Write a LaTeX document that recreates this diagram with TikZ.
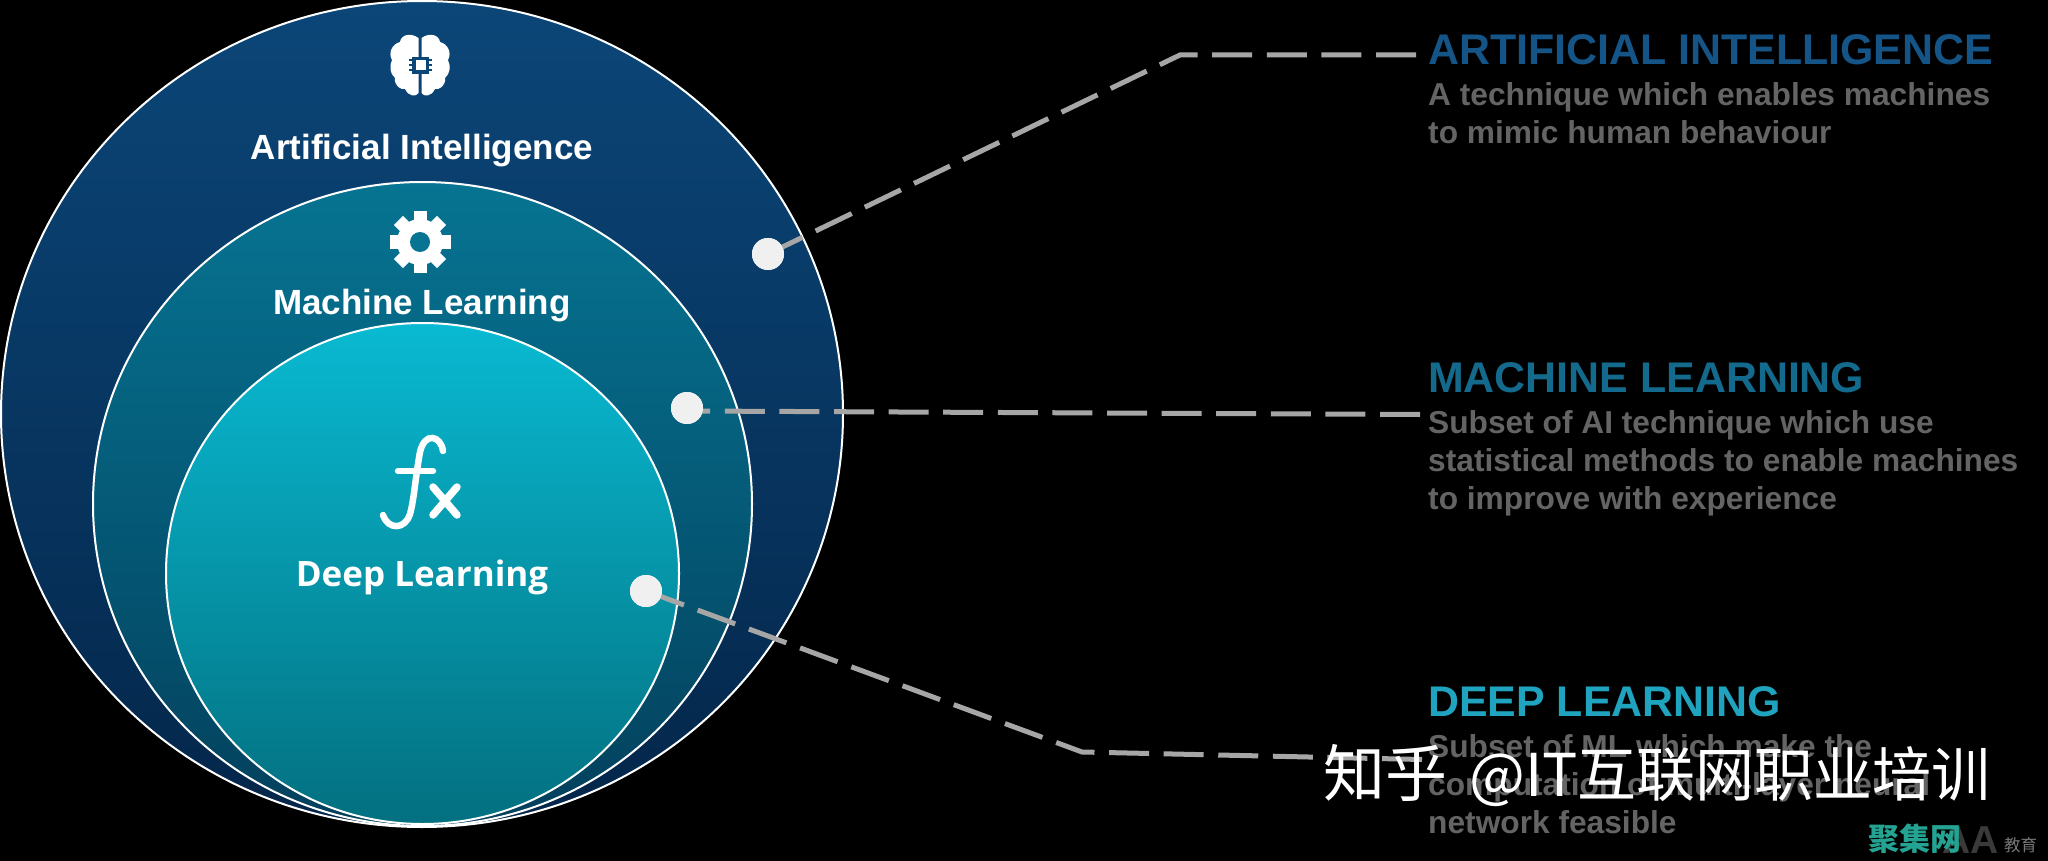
\documentclass[tikz,border=0pt]{standalone}
\usepackage{fontspec}
\setmainfont{Liberation Sans}
\newfontfamily\opsans{Open Sans}
\newfontfamily\cjkfont{Noto Sans CJK SC}
\usetikzlibrary{calc,shapes.geometric}
\definecolor{aihead}{HTML}{145487}
\definecolor{mlhead}{HTML}{136A8C}
\definecolor{dlhead}{HTML}{1FA3BE}
\definecolor{bodygray}{HTML}{646464}
\definecolor{linkgray}{HTML}{A6A6A6}
\definecolor{dotfill}{HTML}{F0F0F0}
\definecolor{aitop}{HTML}{0B4678}
\definecolor{aimid}{HTML}{06406E}
\definecolor{aibot}{HTML}{04264A}
\definecolor{mltop}{HTML}{067492}
\definecolor{mlmid}{HTML}{055C78}
\definecolor{mlbot}{HTML}{03405C}
\definecolor{dltop}{HTML}{09BAD2}
\definecolor{dlmid}{HTML}{0A9FB6}
\definecolor{dlbot}{HTML}{037080}
\tikzset{
  x=1pt,y=-1pt,
  ring/.style={ellipse,draw=white,line width=2pt,inner sep=0pt},
  dotnode/.style={circle,fill=dotfill,inner sep=0pt,minimum size=32pt},
  link/.style={draw=linkgray,line width=5pt,dash pattern=on 40pt off 14.6pt},
  lefttitle/.style={text=white,font=\bfseries\fontsize{35}{40}\selectfont,inner sep=0pt},
  lefttitleb/.style={text=white,font=\opsans\bfseries\fontsize{35}{40}\selectfont,inner sep=0pt},
  headtxt/.style={anchor=base west,inner sep=0pt,font=\bfseries\fontsize{42.9}{48}\selectfont},
  bodytxt/.style={anchor=base west,inner sep=0pt,text=bodygray,font=\bfseries\fontsize{31.7}{38}\selectfont},
}
\begin{document}
\begin{tikzpicture}
\fill[black] (0,0) rectangle (2048,861);
\useasboundingbox (0,0) rectangle (2048,861);
% circles
\node[ring,minimum width=842pt,minimum height=826pt,top color=aitop,middle color=aimid,bottom color=aibot] (ai) at (422,414) {};
\node[ring,minimum width=659pt,minimum height=644pt,top color=mltop,middle color=mlmid,bottom color=mlbot] (ml) at (422.5,504) {};
\node[ring,minimum width=513pt,minimum height=501pt,top color=dltop,middle color=dlmid,bottom color=dlbot] (dl) at (422.5,573.5) {};
% brain icon
\fill[white] (418.5,38) .. controls (410,32) and (401,35) .. (400,42)
  .. controls (392,44) and (388,53) .. (392,60)
  .. controls (389,66) and (390,74) .. (395,78)
  .. controls (394,86) and (401,90) .. (405,89)
  .. controls (409,97) and (416,97) .. (418.5,93) -- cycle;
\fill[white] (421.5,38) .. controls (430,32) and (439,35) .. (440,42)
  .. controls (448,44) and (452,53) .. (448,60)
  .. controls (451,66) and (450,74) .. (445,78)
  .. controls (446,86) and (439,90) .. (435,89)
  .. controls (431,97) and (424,97) .. (421.5,93) -- cycle;
\fill[aitop] (412,57) rectangle (429,74);
\fill[white] (415.5,60.5) rectangle (425.5,70.5);
\foreach \q in {59,64,69}{
  \fill[aitop] (409,\q) rectangle (413,\q+2.5);
  \fill[aitop] (428,\q) rectangle (432,\q+2.5);
}
% gear icon
\fill[white] (420,242) circle (23pt);
\foreach \a in {0,45,...,315}{
  \fill[white,rotate around={\a:(420,242)}] (413.5,211.5) rectangle (426.5,225);
}
\fill[mltop] (420,242) circle (10pt);
% fx icon
\draw[white,line width=6.5pt,line cap=round] (443,451) .. controls (441,436) and (425,431) .. (420,452) .. controls (415,480) and (414,500) .. (410,514) .. controls (405,530) and (388,530) .. (383,515);
\draw[white,line width=6.5pt,line cap=round] (398,471) -- (433,471);
\draw[white,line width=7.5pt,line cap=round] (433,515) -- (457,487);
\draw[white,line width=7.5pt,line cap=round] (433,487) -- (457,515);
% left titles
\node[lefttitle] (t1) at (422,151) {Artificial Intelligence};
\node[lefttitle] (t2) at (422,306) {Machine Learning};
\node[lefttitleb] (t3) at (422,577) {Deep Learning};
% right text
\node[headtxt,text=aihead] (h1) at (1428,65) {ARTIFICIAL INTELLIGENCE};
\node[bodytxt] (b1a) at (1428,106) {A technique which enables machines};
\node[bodytxt] (b1b) at (1428,144) {to mimic human behaviour};
\node[headtxt,text=mlhead] (h2) at (1428,392) {MACHINE LEARNING};
\node[bodytxt] (b2a) at (1428,433) {Subset of AI technique which use};
\node[bodytxt] (b2b) at (1428,471) {statistical methods to enable machines};
\node[bodytxt] (b2c) at (1428,509) {to improve with experience};
\node[headtxt,text=dlhead] (h3) at (1428,716) {DEEP LEARNING};
\node[bodytxt] (b3a) at (1428,757) {Subset of ML which make the};
\node[bodytxt] (b3b) at (1428,795) {computation of multi-layer neural};
\node[bodytxt] (b3c) at (1428,833) {network feasible};
% connectors
\node[dotnode] (d1) at (768,254) {};
\node[dotnode] (d2) at (687,408) {};
\node[dotnode] (d3) at (646,591) {};
\coordinate (k1) at (1180,55);
\coordinate (e1) at (1416,55);
\coordinate (e2) at (1420,414.5);
\coordinate (s2) at (690,411);
\coordinate (k3) at (1082,752);
\coordinate (e3) at (1422,759.5);
\draw[link] (e1) -- (k1) -- (d1.center);
\draw[link] (e2) -- (s2);
\draw[link] (e3) -- (k3) -- (d3.center);
\node[dotnode] at (d1) {};
\node[dotnode] at (d2) {};
\node[dotnode] at (d3) {};
% watermark
\node[anchor=base west,inner sep=0pt,text=white,font=\cjkfont\fontsize{62}{62}\selectfont] (wm) at (1323,796) {知乎\hskip 22pt{\fontsize{59}{62}\selectfont @IT互联网职业培训}};
\node[anchor=base west,inner sep=0pt,text={rgb,255:red,58;green,58;blue,58},font=\bfseries\fontsize{39}{39}\selectfont] (lga) at (1942,853) {AA};
\node[anchor=base west,inner sep=0pt,text={rgb,255:red,36;green,163;blue,146},font=\cjkfont\bfseries\fontsize{31}{31}\selectfont] (lg) at (1868,850) {聚集网};
\node[anchor=base west,inner sep=0pt,text={rgb,255:red,120;green,120;blue,120},font=\cjkfont\fontsize{16.5}{16.5}\selectfont] (lgb) at (2004,851) {教育};
\end{tikzpicture}
\end{document}
